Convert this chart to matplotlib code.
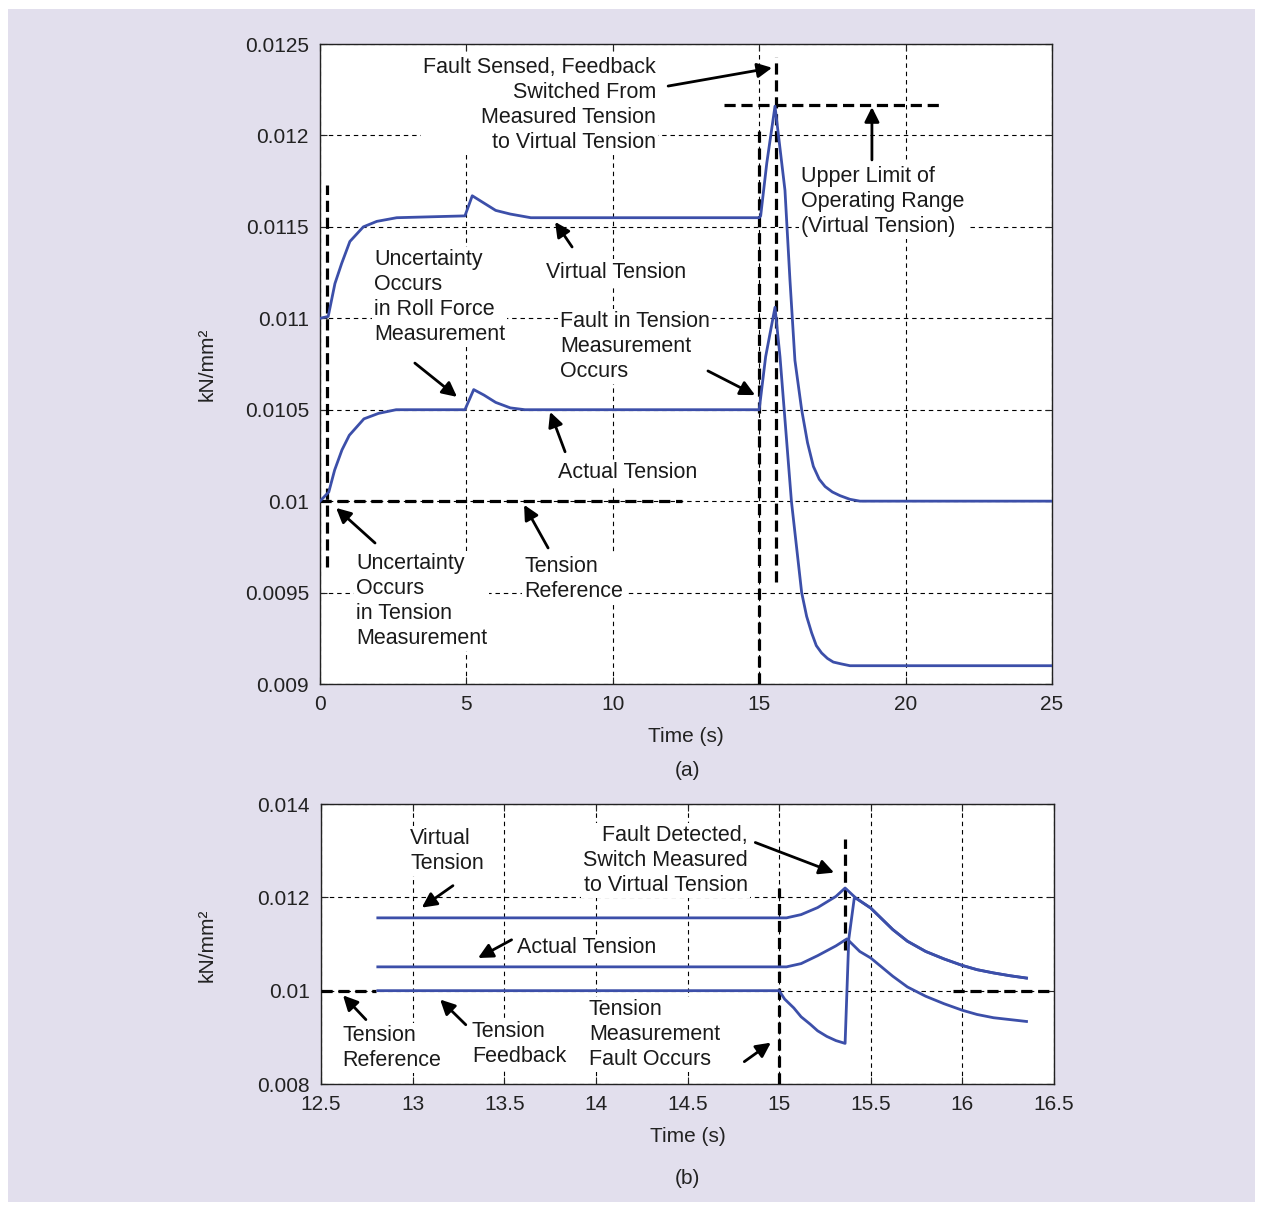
import matplotlib
matplotlib.use("Agg")
import matplotlib.pyplot as plt
from matplotlib.patches import Rectangle

plt.rcParams['font.family'] = ['Liberation Sans', 'DejaVu Sans']

# ---------------- data: panel (a) ----------------
t_virtual_a = [0, 0.28, 0.51, 0.74, 1.02, 1.48, 1.94, 2.62, 4.95, 5.2, 5.6, 6.0, 6.5, 7.2,
               15.0, 15.05, 15.26, 15.54, 15.88, 16.05, 16.22, 16.45, 16.65, 16.85, 17.05,
               17.25, 17.5, 17.76, 18.1, 18.44, 25]
virtual_a = [0.01100, 0.01101, 0.01119, 0.01130, 0.01142, 0.01150, 0.01153, 0.01155, 0.01156,
             0.01167, 0.01163, 0.01159, 0.01157, 0.01155,
             0.01155, 0.01156, 0.01185, 0.01216, 0.01170, 0.01121, 0.01077, 0.01050, 0.01032,
             0.01019, 0.01012, 0.01008, 0.01005, 0.01003, 0.01001, 0.01000, 0.01000]

t_actual_a = [0, 0.3, 0.5, 0.75, 1.0, 1.5, 2.0, 2.6, 4.95, 5.25, 5.6, 6.0, 6.5, 7.0,
              15.0, 15.22, 15.54, 15.71, 16.1, 16.45, 16.62, 16.79, 16.95, 17.13, 17.33,
              17.53, 17.8, 18.1, 25]
actual_a = [0.01000, 0.01005, 0.01017, 0.01028, 0.01036, 0.01045, 0.01048, 0.01050, 0.01050,
            0.01061, 0.01058, 0.01054, 0.01051, 0.01050,
            0.01050, 0.01079, 0.01106, 0.01079, 0.01000, 0.00950, 0.00937, 0.00928, 0.00921,
            0.00917, 0.00914, 0.00912, 0.00911, 0.00910, 0.00910]

xticks_a = [0, 5, 10, 15, 20, 25]
yticks_a = [0.009, 0.0095, 0.01, 0.0105, 0.011, 0.0115, 0.012, 0.0125]
yticklabels_a = ['0.009', '0.0095', '0.01', '0.0105', '0.011', '0.0115', '0.012', '0.0125']

# ---------------- data: panel (b) ----------------
t_virtual_b = [12.81, 15.0, 15.04, 15.12, 15.21, 15.31, 15.36, 15.42, 15.5, 15.62, 15.7, 15.8,
               15.9, 16.0, 16.08, 16.17, 16.26, 16.35]
virtual_b = [0.01156, 0.01156, 0.01156, 0.01163, 0.01178, 0.01202, 0.01220, 0.01198, 0.01177,
             0.01131, 0.01106, 0.01084, 0.01068, 0.01054, 0.01045, 0.01038, 0.01032, 0.01027]

t_actual_b = [12.81, 15.0, 15.04, 15.12, 15.21, 15.31, 15.37, 15.44, 15.5, 15.62, 15.7, 15.8,
              15.9, 16.0, 16.08, 16.17, 16.26, 16.35]
actual_b = [0.01051, 0.01051, 0.01051, 0.01058, 0.01075, 0.01096, 0.01111, 0.01084, 0.01070,
            0.01031, 0.01008, 0.00988, 0.00972, 0.00958, 0.00949, 0.00942, 0.00938, 0.00934]

t_feedback_b = [12.81, 15.0, 15.03, 15.08, 15.12, 15.17, 15.21, 15.26, 15.31, 15.36, 15.38, 15.41,
                15.42, 15.5, 15.62, 15.7, 15.8, 15.9, 16.0, 16.08, 16.17, 16.26, 16.35]
feedback_b = [0.01000, 0.01000, 0.00982, 0.00963, 0.00944, 0.00928, 0.00914, 0.00902, 0.00893,
              0.00887, 0.01110, 0.01198, 0.01198, 0.01177, 0.01131, 0.01106, 0.01084, 0.01068,
              0.01054, 0.01045, 0.01038, 0.01032, 0.01027]

xticks_b = [12.5, 13, 13.5, 14, 14.5, 15, 15.5, 16, 16.5]
xticklabels_b = ['12.5', '13', '13.5', '14', '14.5', '15', '15.5', '16', '16.5']
yticks_b = [0.008, 0.01, 0.012, 0.014]
yticklabels_b = ['0.008', '0.01', '0.012', '0.014']

# ---------------- styling ----------------
W, H = 1263, 1210
BLUE = '#3c4fa9'
BG = '#e2dfed'
FS_TXT = 15.5
FS_TICK = 15

fig = plt.figure(figsize=(W / 100, H / 100), dpi=100)
fig.patch.set_facecolor('white')
fig.add_artist(Rectangle((8 / W, 1 - 1202 / H), (1255 - 8) / W, (1202 - 9) / H,
                         transform=fig.transFigure, facecolor=BG, edgecolor='none', zorder=-10))


def px_axes(l, t, r, b):
    return fig.add_axes([l / W, 1 - b / H, (r - l) / W, (b - t) / H])


def style(ax, xt, yt, ytl, xtl=None):
    ax.set_facecolor('white')
    ax.set_xticks(xt)
    if xtl is not None:
        ax.set_xticklabels(xtl)
    ax.set_yticks(yt)
    ax.set_yticklabels(ytl)
    ax.grid(True, color='black', linestyle=(0, (4, 3.5)), linewidth=0.8)
    ax.set_axisbelow(True)
    for s in ax.spines.values():
        s.set_linewidth(1.0)
        s.set_color('#222222')
    ax.tick_params(direction='in', length=5, width=0.8, top=True, right=True,
                   labelsize=FS_TICK, pad=8, colors='#222222')


def thick(ax, xs, ys):
    ax.plot(xs, ys, color='black', lw=2.3, linestyle=(0, (3.5, 1.8)), zorder=3)


def arrow(ax, tail, head):
    ax.annotate('', xy=head, xytext=tail,
                arrowprops=dict(arrowstyle='-|>', color='black', lw=2.0,
                                mutation_scale=22, shrinkA=0, shrinkB=0), zorder=6)


def label(ax, x, y, s, ha='left'):
    ax.text(x, y, s, ha=ha, va='top', fontsize=FS_TXT, color='#1a1a1a', linespacing=1.25,
            bbox=dict(facecolor='white', edgecolor='none', pad=1.5), zorder=4)


# ================= panel (a) =================
ax1 = px_axes(320, 44, 1052, 684)
ax1.set_xlim(0, 25)
ax1.set_ylim(0.009, 0.0125)
style(ax1, xticks_a, yticks_a, yticklabels_a)

label(ax1, 11.475, 0.01243, 'Fault Sensed, Feedback\nSwitched From\nMeasured Tension\nto Virtual Tension', ha='right')
label(ax1, 16.43, 0.011835, 'Upper Limit of\nOperating Range\n(Virtual Tension)')
label(ax1, 1.844, 0.01138, 'Uncertainty\nOccurs\nin Roll Force\nMeasurement')
label(ax1, 7.72, 0.01131, 'Virtual Tension')
label(ax1, 8.2, 0.01104, 'Fault in Tension\nMeasurement\nOccurs')
label(ax1, 8.13, 0.010215, 'Actual Tension')
label(ax1, 1.23, 0.009717, 'Uncertainty\nOccurs\nin Tension\nMeasurement')
label(ax1, 6.97, 0.0097, 'Tension\nReference')

thick(ax1, [0.25, 0.25], [0.00964, 0.01173])
thick(ax1, [15.0, 15.0], [0.009, 0.01203])
thick(ax1, [15.57, 15.57], [0.00956, 0.01243])
thick(ax1, [0, 12.36], [0.01, 0.01])
thick(ax1, [13.8, 21.2], [0.012165, 0.012165])

ax1.plot(t_virtual_a, virtual_a, color=BLUE, lw=2.0, zorder=5)
ax1.plot(t_actual_a, actual_a, color=BLUE, lw=2.0, zorder=5)

arrow(ax1, (11.89, 0.01227), (15.44, 0.01237))
arrow(ax1, (18.85, 0.011866), (18.85, 0.012155))
arrow(ax1, (8.61, 0.01139), (8.03, 0.011527))
arrow(ax1, (3.24, 0.010755), (4.68, 0.01057))
arrow(ax1, (13.25, 0.010712), (14.86, 0.01058))
arrow(ax1, (8.37, 0.01027), (7.86, 0.010488))
arrow(ax1, (1.88, 0.009771), (0.55, 0.009963))
arrow(ax1, (7.79, 0.009744), (6.97, 0.00998))

ax1.set_xlabel('Time (s)', fontsize=FS_TICK, labelpad=9, color='#222222')
fig.text(207 / W, 1 - 364 / H, 'kN/mm²', rotation=90, ha='center', va='center',
         fontsize=FS_TICK, color='#222222')
fig.text(687 / W, 1 - 770 / H, '(a)', ha='center', va='center', fontsize=FS_TICK, color='#222222')

# ================= panel (b) =================
ax2 = px_axes(321, 804, 1054, 1084)
ax2.set_xlim(12.5, 16.5)
ax2.set_ylim(0.008, 0.014)
style(ax2, xticks_b, yticks_b, yticklabels_b, xticklabels_b)

label(ax2, 12.986, 0.01349, 'Virtual\nTension')
label(ax2, 14.83, 0.01355, 'Fault Detected,\nSwitch Measured\nto Virtual Tension', ha='right')
label(ax2, 13.57, 0.01115, 'Actual Tension')
label(ax2, 12.615, 0.00927, 'Tension\nReference')
label(ax2, 13.324, 0.00935, 'Tension\nFeedback')
label(ax2, 13.962, 0.00982, 'Tension\nMeasurement\nFault Occurs')

thick(ax2, [12.5, 12.8], [0.01, 0.01])
thick(ax2, [15.95, 16.5], [0.01, 0.01])
thick(ax2, [15.0, 15.0], [0.008, 0.0122])
thick(ax2, [15.36, 15.36], [0.01088, 0.01324])

ax2.plot(t_virtual_b, virtual_b, color=BLUE, lw=2.0, zorder=5)
ax2.plot(t_actual_b, actual_b, color=BLUE, lw=2.0, zorder=5)
ax2.plot(t_feedback_b, feedback_b, color=BLUE, lw=2.0, zorder=5)

arrow(ax2, (14.87, 0.013175), (15.30, 0.01253))
arrow(ax2, (13.22, 0.01225), (13.05, 0.01178))
arrow(ax2, (13.54, 0.01109), (13.357, 0.0107))
arrow(ax2, (12.745, 0.00938), (12.62, 0.0099))
arrow(ax2, (13.29, 0.00927), (13.15, 0.00981))
arrow(ax2, (14.81, 0.008479), (14.955, 0.008886))

ax2.set_xlabel('Time (s)', fontsize=FS_TICK, labelpad=9, color='#222222')
fig.text(207 / W, 1 - 945 / H, 'kN/mm²', rotation=90, ha='center', va='center',
         fontsize=FS_TICK, color='#222222')
fig.text(687 / W, 1 - 1178 / H, '(b)', ha='center', va='center', fontsize=FS_TICK, color='#222222')

fig.savefig('out.png', dpi=100, facecolor=fig.get_facecolor())
